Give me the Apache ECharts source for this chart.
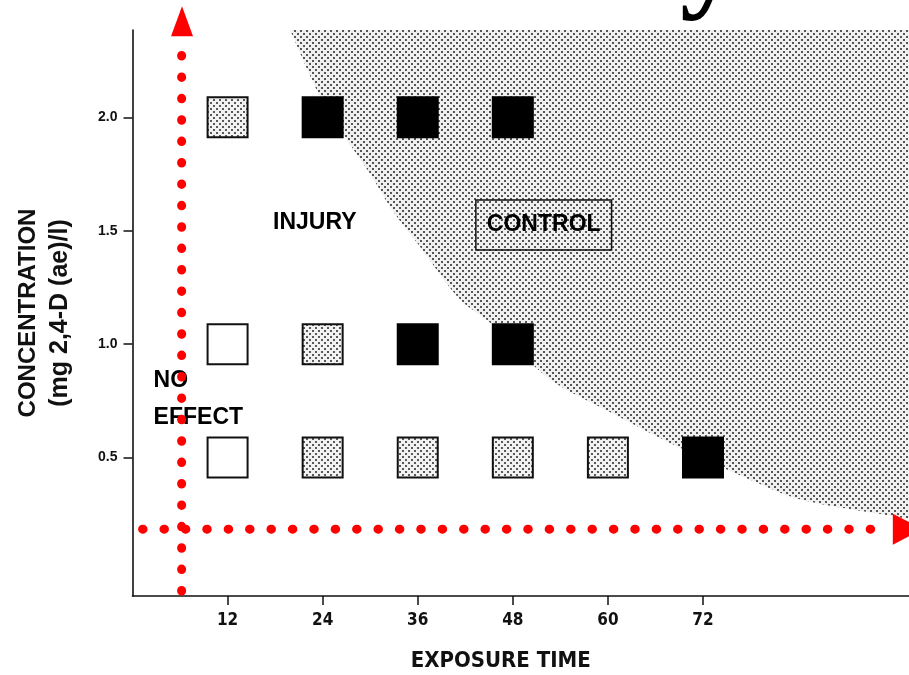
<!DOCTYPE html>
<html>
<head>
<meta charset="utf-8">
<script src="https://cdn.jsdelivr.net/npm/echarts@6/dist/echarts.min.js"></script>
<style>
html,body{margin:0;padding:0;background:#fff;}
#chart{width:909px;height:675px;}
</style>
</head>
<body>
<div id="chart"></div>
<script>
// ---- data ----
const hourTicks = [12, 24, 36, 48, 60, 72];
const concTicks = [0.5, 1.0, 1.5, 2.0];

// open squares: no effect
const noEffectHours = [12, 12];
const noEffectConc  = [1.0, 0.5];
// stippled squares: injury
const injuryHours = [12, 24, 24, 36, 48, 60];
const injuryConc  = [2.0, 1.0, 0.5, 0.5, 0.5, 0.5];
// black squares: control
const controlHours = [24, 36, 48, 36, 48, 72];
const controlConc  = [2.0, 2.0, 2.0, 1.0, 1.0, 0.5];

// boundary of the shaded (control) zone
const shadeHours = [19.9, 23.7, 26.8, 30.0, 33.0, 36.5, 41.3, 45.1, 52.7, 60.3, 68.7, 77.9, 84.2, 96.0, 98.0];
const shadeConc  = [2.385, 2.09, 1.914, 1.75, 1.58, 1.42, 1.198, 1.096, 0.845, 0.70, 0.55, 0.404, 0.317, 0.242, 0.229];

// ---- helpers ----
function zip(a, b) { return a.map((v, i) => [v, b[i]]); }
function makePattern(size, bg, dot, pts, d) {
  const c = document.createElement('canvas');
  c.width = size; c.height = size;
  const g = c.getContext('2d');
  g.fillStyle = bg; g.fillRect(0, 0, size, size);
  g.fillStyle = dot;
  pts.forEach(p => g.fillRect(p[0], p[1], d, d));
  return c;
}
const shadePat = makePattern(6, '#f0f0f0', '#555555', [[0,0],[3,3]], 2);
const squarePat = makePattern(6, '#f2f2f2', '#5a5a5a', [[0,0],[3,3]], 2);

const SANS = '"Liberation Sans", Arial, sans-serif';
const NARROW = '"Liberation Sans Narrow", "DejaVu Sans Condensed", "Liberation Sans", sans-serif';

const chart = echarts.init(document.getElementById('chart'), null, {renderer: 'canvas'});

const annLabel = (text, extra) => Object.assign({
  show: true, position: 'inside', formatter: text,
  color: '#000', fontFamily: SANS, fontWeight: 'bold', fontSize: 23
}, extra || {});

function squareSeries(name, hours, conc, fill, stroke) {
  return {
    name: name, type: 'custom', data: zip(hours, conc), z: 3, silent: true,
    renderItem: function (params, api) {
      const p = api.coord([api.value(0), api.value(1)]);
      return {
        type: 'rect',
        shape: {x: p[0] - 20, y: p[1] - 20, width: 40, height: 40},
        style: {fill: fill, stroke: stroke, lineWidth: 2}
      };
    }
  };
}

const option = {
  animation: false,
  backgroundColor: '#fff',
  grid: {left: 132.5, right: 0, top: 30, bottom: 79, outerBoundsMode: 'none'},
  xAxis: {
    type: 'value', min: 0, max: 98,
    splitLine: {show: false},
    axisLine: {show: true, onZero: false, lineStyle: {color: '#111', width: 1.6}},
    axisTick: {show: true, customValues: hourTicks, length: 9, lineStyle: {color: '#111', width: 1.5}},
    axisLabel: {show: true, customValues: hourTicks, margin: 16, color: '#111',
      fontFamily: NARROW, fontWeight: 'bold', fontSize: 17},
    name: 'EXPOSURE TIME', nameLocation: 'middle', nameGap: 54,
    nameTextStyle: {color: '#111', fontFamily: NARROW, fontWeight: 'bold', fontSize: 22,
      verticalAlign: 'top', padding: [0, 40, 0, 0]}
  },
  yAxis: {
    type: 'value', min: -0.11, max: 2.385,
    splitLine: {show: false},
    axisLine: {show: true, onZero: false, lineStyle: {color: '#111', width: 1.6}},
    axisTick: {show: true, customValues: concTicks, length: 9, lineStyle: {color: '#111', width: 1.5}},
    axisLabel: {show: true, customValues: concTicks, margin: 15, color: '#111',
      fontFamily: SANS, fontWeight: 'bold', fontSize: 14,
      formatter: v => Number(v).toFixed(1)},
    name: '{a|CONCENTRATION}\n{b|(mg 2,4-D (ae)/l)}',
    nameLocation: 'middle', nameGap: 56, nameRotate: 90,
    nameTextStyle: {
      color: '#111',
      rich: {
        a: {fontFamily: SANS, fontWeight: 'bold', fontSize: 24, color: '#111', lineHeight: 32},
        b: {fontFamily: SANS, fontWeight: 'bold', fontSize: 25, color: '#111', lineHeight: 32}
      }
    }
  },
  graphic: [{
    type: 'text', left: 680, top: -96, silent: true,
    style: {text: 'y', font: 'bold 120px "Liberation Serif", "DejaVu Serif", serif', fill: '#000'}
  }],
  series: [
    {
      name: 'control zone', type: 'line', data: zip(shadeHours, shadeConc),
      symbol: 'none', silent: true, z: 1, clip: true, smooth: 0.3,
      lineStyle: {width: 0, opacity: 0},
      areaStyle: {origin: 'end', opacity: 1, color: {image: shadePat, repeat: 'repeat'}}
    },
    squareSeries('no effect', noEffectHours, noEffectConc, '#ffffff', '#111111'),
    squareSeries('injury', injuryHours, injuryConc, {image: squarePat, repeat: 'repeat'}, '#111111'),
    squareSeries('control', controlHours, controlConc, '#000000', '#000000'),
    {
      name: 'annotations', type: 'scatter', symbolSize: 1, z: 4, silent: true,
      itemStyle: {color: 'rgba(0,0,0,0)', opacity: 1},
      data: [
        {value: [23.0, 1.535], label: annLabel('INJURY')},
        {value: [51.9, 1.525], label: annLabel('CONTROL', {borderColor: '#111', borderWidth: 1.5, padding: [15, 11, 12, 11]})},
        {value: [2.6, 0.840], label: annLabel('NO', {position: 'right', distance: 0})},
        {value: [2.6, 0.677], label: annLabel('EFFECT', {position: 'right', distance: 0})}
      ]
    },
    {
      name: 'v-arrow', type: 'line', data: [[6.2, -0.088], [6.2, 2.345]],
      symbol: 'none', clip: false, z: 10, silent: true,
      lineStyle: {color: '#ff0000', width: 9, cap: 'round', type: [0.5, 20.9]}
    },
    {
      name: 'h-arrow', type: 'line', data: [[1.27, 0.1846], [95.6, 0.1846]],
      symbol: 'none', clip: false, z: 10, silent: true,
      lineStyle: {color: '#ff0000', width: 9, cap: 'round', type: [0.5, 20.9]}
    },
    {
      name: 'arrow heads', type: 'scatter', symbol: 'triangle', clip: false, z: 11, silent: true,
      itemStyle: {color: '#ff0000', opacity: 1},
      data: [
        {value: [6.25, 2.424], symbolSize: [22, 30], symbolRotate: 0},
        {value: [97.85, 0.1846], symbolSize: [31, 30], symbolRotate: -90}
      ]
    }
  ]
};
chart.setOption(option);
</script>
</body>
</html>
